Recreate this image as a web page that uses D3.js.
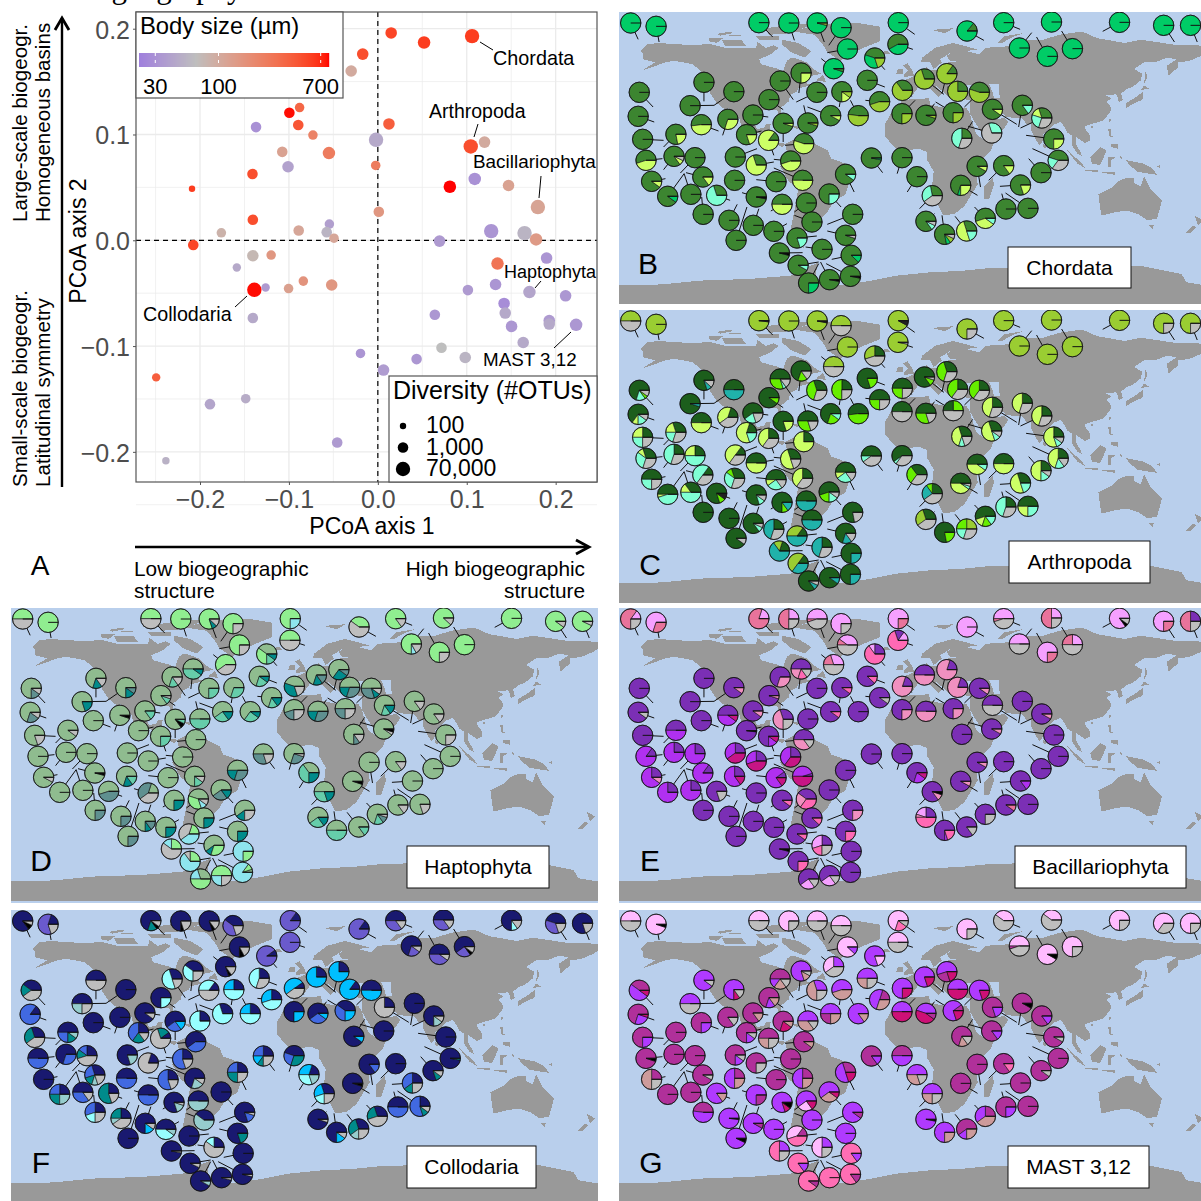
<!DOCTYPE html>
<html>
<head>
<meta charset="utf-8">
<script src="https://cdn.jsdelivr.net/npm/d3@7"></script>
<style>
body { margin: 0; background: #fff; }
svg { display: block; font-family: "Liberation Sans", Arial, sans-serif; }
</style>
</head>
<body>
<svg id="fig" width="1201" height="1201"></svg>
<script>
// PCoA scatter values, one row per lineage
var pcoaX = [.106,.052,.015,-.017,-.030,-.088,-.0995,-.0895,.0125,-.137,-.002,-.073,.1045,.120,-.1075,-.055,-.101,-.0024,-.141,.109,.081,.147,-.209,.180,.0011,-.1406,-.0545,-.176,-.089,-.0575,-.0493,.1275,.165,.178,.0694,-.2076,-.1406,-.120,-.1586,.1346,.1898,.1324,-.0838,-.0519,-.1262,-.1004,-.1389,.1013,.1705,.2112,.142,.0641,.1433,-.1406,.1504,.1928,.1928,.2230,.1635,.0716,-.0195,.0983,.0436,.0064,-.2493,-.1888,-.1486,-.0457,-.2384];
var pcoaY = [.193,.187,.196,.176,.160,.1255,.1205,.109,.110,.107,.095,.0995,.0887,.0928,.0836,.0824,.0695,.0707,.0626,.058,.0506,.0518,.0487,.0314,.027,.0194,.0153,.0071,.0093,.0077,.002,.0087,.0068,.0008,-.0008,-.0045,-.0146,-.014,-.0257,-.022,-.0168,-.0418,-.0386,-.0423,-.0446,-.0456,-.0468,-.0471,-.049,-.0525,-.0597,-.0704,-.0688,-.0735,-.0814,-.0758,-.0792,-.0799,-.0966,-.1016,-.107,-.1108,-.1123,-.1227,-.1296,-.1549,-.1498,-.1911,-.2084];
var bodySize = [600,600,550,500,100,350,800,450,400,30,45,220,500,100,120,250,40,250,500,30,820,120,600,115,150,500,38,85,110,55,110,32,55,140,35,550,75,150,45,280,32,32,160,150,35,125,800,35,42,33,28,33,45,45,33,35,45,33,45,65,32,55,33,36,400,42,48,35,52];
var otus = [70000,8400,2900,2900,2900,560,1000,1000,2900,1000,70000,560,70000,2900,1000,8400,2900,560,1000,8400,8400,2900,100,70000,1000,1000,560,560,1000,1000,560,70000,70000,8400,2900,1000,2900,560,300,8400,2900,2900,560,2900,300,560,70000,1000,8400,2900,2900,1000,2900,1000,2900,2900,2900,8400,2900,1000,560,2900,1000,2900,300,1000,560,1000,180];

var xTicks = [-0.2, -0.1, 0, 0.1, 0.2];
var yTicks = [-0.2, -0.1, 0, 0.1, 0.2];
var sizeTicks = [30, 100, 700];
var otuTicks = [100, 1000, 70000];
var otuLabels = ['100', '1,000', '70,000'];

var callouts = [
    {name: 'Chordata', tx: 493, ty: 65, size: 19.8, x1: 480, y1: 42, x2: 493, y2: 50},
    {name: 'Arthropoda', tx: 429, ty: 118, size: 19.5, x1: 478, y1: 124, x2: 474, y2: 137},
    {name: 'Bacillariophyta', tx: 473, ty: 168, size: 18.9, x1: 541, y1: 176, x2: 539, y2: 198},
    {name: 'Haptophyta', tx: 504, ty: 278, size: 18, x1: 541, y1: 281, x2: 535, y2: 288},
    {name: 'Collodaria', tx: 143, ty: 321, size: 19.7, x1: 235, y1: 307, x2: 247, y2: 296},
    {name: 'MAST 3,12', tx: 483, ty: 366, size: 18.8, x1: 554, y1: 348, x2: 571, y2: 332}
];

// station digitised on a 1568 x 900 plate: pie centre x,y then sampling point x,y
var stations = [
[42,48,62,97],[110,58,118,105],[385,47,422,90],[465,48,480,100],[541,48,560,105],[605,62,572,115],[758,47,802,82],[757,112,797,127],[942,72,987,100],[1040,47,1084,67],
[1168,45,1195,47],[1082,123,1115,77],[1157,148,1128,90],[1224,125,1195,72],[1350,46,1305,73],[1468,55,1497,105],[1540,55,1558,105],[622,126,568,137],[585,185,552,155],[695,153,722,188],
[238,226,238,283],[318,254,265,295],[201,296,265,295],[65,256,102,300],[62,328,105,345],[231,353,277,372],[302,337,288,385],[442,222,477,278],[498,198,492,258],[412,278,450,308],
[369,324,410,330],[352,383,392,372],[450,349,450,405],[516,348,505,295],[540,256,485,285],[607,254,600,300],[577,326,515,300],[675,220,722,240],[708,284,670,280],[651,326,630,280],
[769,250,795,268],[828,216,880,262],[888,200,875,260],[917,253,890,240],[975,256,935,300],[768,320,803,280],[832,325,855,290],[905,317,858,285],[1010,307,1075,352],[1090,295,1080,360],
[1142,333,1085,363],[928,394,957,343],[1008,378,945,358],[1174,396,1100,385],[1186,460,1117,425],[1140,497,1107,455],[1085,534,1030,538],[1040,476,1000,520],[969,478,978,540],[925,535,970,565],
[686,453,716,497],[768,452,755,500],[808,509,782,555],[849,566,815,605],[832,643,855,620],[882,682,875,625],[941,672,910,628],[991,634,962,600],[1046,606,1035,560],[1105,604,1045,558],
[74,397,130,400],[163,382,130,420],[83,460,127,455],[158,448,130,488],[214,452,175,498],[235,510,190,497],[141,568,185,500],[203,562,185,500],[98,523,135,515],[322,450,380,425],
[378,474,425,465],[411,400,425,445],[505,410,455,415],[470,462,425,457],[320,520,345,532],[431,524,378,518],[502,520,425,483],[272,565,308,580],[378,570,340,557],[447,592,417,612],
[512,588,480,615],[573,561,605,600],[617,502,640,555],[236,622,232,570],[305,640,327,592],[370,655,385,605],[324,700,353,600],[425,673,460,650],[527,645,480,625],[636,622,568,652],
[487,693,540,687],[617,685,568,672],[554,727,510,720],[440,738,502,737],[632,745,580,757],[490,775,545,765],[630,808,565,770],[574,818,550,765],[518,828,545,770]
];

// OTU composition per station, letter = colour in the panel palette, number = percent
var chordata = [
'B','B','B','B','B96 C4','B','B','A58 B42','A14 B86','B',
'B','B','B','B','B','B','B','B','B95 A5','A45 B35 C20',
'A','A','A','A','A','A52 D48','A70 D30','A','A75 D25','A',
'A','A80 D20','A95 D5','A95 C5','A','A75 D15 C10','A92 D8','A','A55 C45','A48 C52',
'A35 C65','A30 C70','A15 C85','A25 C75','A45 C55','A75 C25','A95 C5','A75 C25','A90 D10','A85 E15',
'A30 D15 E25 G30','A25 E45 G30','E30 G70','A75 D25','A45 E20 G35','A','A80 D20','A85 D15','A92 D8','A70 B5 D25',
'A97 B3','A','A','A28 E32 G40','A85 E8 G7','A78 B7 C8 G7','A30 D50 E20','A55 D35 E10','A','A',
'A','A78 D22','A55 D45','A85 D8 G7','A','A85 D15','A90 B10','A','A90 D10','A',
'A30 D70','A15 D85','A45 D55','A55 D45','A','A','A50 D50','A30 E70','A97 K3','A50 D50',
'A','A75 E25','A90 E10','A','A','A','A','A','A','A',
'A80 E20','A95 G5','A','A96 K4','A88 B12','A92 E8','A97 K3','A97 K3','A75 B25'
];
var arthropoda = [
'B50 G50','B','B98 K2','B','B97 K3','B50 G50','B92 K8','B97 G3','B75 G25','B',
'B','B','B','B','B','B75 G25','B75 G25','B','B50 G50','A25 B30 G45',
'A80 F8 G12','A50 F50','A95 F5','A70 E15 C5 G10','A65 D10 E15 G10','A50 D50','A20 D40 G40','A50 C30 E5 G15','A70 C15 G15','A90 C10',
'A60 E20 G20','A20 D60 E20','A80 D20','A50 C30 G20','A30 C40 G30','A25 C50 G25','A70 C20 E10','A80 C20','A50 C25 G25','A52 C48',
'A50 C25 G25','A85 C10 G5','A30 C40 G30','A25 C40 G35','A25 C40 G35','A50 G50','A50 C30 G20','C25 A25 G50','A25 D45 G30','A25 D45 G30',
'A25 D45 G30','A30 D40 E10 G20','A30 D50 E10 G10','A25 D55 E10 G10','A25 D45 E15 G15','A25 D50 E15 G10','A30 D50 E20','A50 D50','A50 D40 E10','A50 D40 E5 G5',
'A50 E10 G40','A60 E5 G35','A35 C30 G35','A25 C10 F25 G40','A30 B30 G40','A78 C22','B25 C25 E20 G30','A55 D15 C15 E15','A25 E45 G30','A50 D25 E25',
'A25 D25 E25 G25','A30 D20 E20 G30','A30 D10 E30 G30','A25 E45 G30','A25 D25 E50','A15 E50 G35','A50 D5 E45','A35 D15 E50','A50 E25 G25','A15 D50 G35',
'A50 D50','A25 D40 G35','A25 D75','A30 D50 G20','A30 C10 E30 G30','A50 D10 E25 G15','A25 D40 G35','A80 C10 K10','A80 E10 G10','A75 C10 F15',
'A50 F50','A55 C20 E15 G10','A50 D10 E25 G15','A','A','A85 E8 G7','A90 G10','A25 F45 G30','A50 F50','A78 G22',
'A15 B35 F50','A70 F15 G15','A25 F45 G30','A20 B15 F65','A75 F25','A15 B50 F35','A75 F25','A90 F10','A85 F8 G7'
];
var haptophyta = [
'B50 G50','B','B50 G50','B','B80 C8 G12','B75 G25','B75 F25','B50 G50','B40 G60','B85 G15',
'B88 G12','B75 F8 G17','B75 G25','B','B','B90 G10','B93 G7','B75 G25','B60 G40','A40 B35 D15 C10',
'A70 C15 G15','A75 C15 E10','A80 C20','A75 E15 G10','A70 E20 G10','A','A95 K5','A70 D15 G15','A50 D40 C10','A85 D10 G5',
'A85 D15','A','A85 K8 D7','A50 D50','A75 D25','A70 D30','A60 D25 C15','A70 D20 C10','A70 D15 C15','A65 D25 C10',
'A45 C35 G20','A70 C15 E15','A65 C25 E10','A50 C20 E30','A50 E30 C10 G10','A55 E20 G25','A50 C20 E30','A50 E25 G25','A70 D15 C15','A85 G15',
'A85 G15','A75 E10 G15','A90 G5 K5','A75 G25','A','A','A','A85 G15','A','A95 K5',
'A50 E30 G20','A70 E25 G5','A35 D40 C25','A50 D30 C20','A60 D25 C15','A50 D50','A85 D15','A70 D15 E10 G5','A85 G15','A80 G20',
'A80 G20','A90 G10','A','A','A','A96 K4','A','A','A92 G8','A',
'A','A75 D25','A','A','A70 C15 D15','A','A75 D15 G10','A55 E45','A20 E40 G40','A75 C25',
'A45 B35 F10 G10','A60 E25 C15','A50 C20 E30','A75 E25','A75 E25','A75 C10 E15','A75 E25','A75 C25','A75 C25','A60 C15 G25',
'B20 G40 F40','A75 C25','A60 C10 B30','B25 F15 G60','F75 B25','B25 G10 F65','A5 B10 F85','B50 F25 G25','A30 F20 B50'
];
var bacillariophyta = [
'E15 H60 G25','E70 H30','E20 H80','E25 H50 G25','E50 H5 G45','E75 G25','E75 H25','E15 A15 D70','E','E50 H5 G45',
'E25 H50 G25','E50 G50','E75 H25','E25 H25 G50','E85 K5 G10','E75 H25','A25 H50 G25','E40 H10 G50','E30 H20 G50','A25 E10 D65',
'A','A90 F10','A','A','A90 G10','A','A50 B40 C10','A70 F30','A50 F20 D15 G15','A95 F5',
'A90 F10','A98 K2','A30 F45 G25','A','A','A90 D10','A90 D10','A88 D12','A90 G10','A',
'A20 F80','A50 F50','A20 F80','A20 F80','A90 F10','A75 F25','A50 F50','A75 F25','A50 G50','A',
'A92 F8','A','A92 F8','A','A','A','A85 B15','A','A92 F8','A92 F8',
'A','A','A70 B20 C10','A85 F10 K5','A25 E20 F5 D50','A75 B5 D20','A85 G15','A75 G25','A90 H10','A',
'A','A50 B50','A15 B85','A25 B75','A25 B75','A15 B85','A25 B75','A25 B75','A25 B65 F10','A25 B35 C40',
'A25 B30 C45','A75 B15 C10','A50 F35 G15','A25 B40 C35','A25 B60 C15','A10 B75 C15','A5 B45 C50','A80 G20','A','A90 D10',
'A40 F25 D35','A','A','A','A','A','A','A','A88 D12','A75 F25',
'A90 D10','A75 D25','A25 E30 D20 G25','A96 K4','A','A75 D25','A','A60 E25 G15','A60 E25 G15'
];
var collodaria = [
'A85 K8 G7','A20 C60 G20','A70 F15 K5 G10','A75 K5 G20','A80 K5 G15','A40 C40 G20','A15 C85','C','A15 C85','A50 C35 G15',
'A50 C35 G15','A70 C20 G10','A50 C40 G10','A60 C25 K5 G10','A75 E10 G15','A45 C35 G20','A80 G20','A75 K8 G17','A80 K5 G15','A10 C90',
'A50 G50','A','A50 H25 G25','A40 F20 G40','A15 B85','A','A','A30 E50 G20','A40 E35 G25','A75 E25',
'A90 G10','A25 B40 F20 G15','A60 B25 D15','A25 E75','A15 E35 G50','A25 D25 E50','A30 E70','A25 E45 G30','A25 D30 E45','A25 D25 E50',
'A10 D50 G40','A25 D75','A25 D75','A15 D85','A50 D50','A75 D25','A60 B30 D10','A40 B35 D25','A25 G75','A',
'A75 H15 G10','A90 D10','A','A','A97 F3','A80 F10 G10','A25 B35 F15 G25','A','A85 B15','A95 K5',
'A25 B25 D15 F10 G25','A45 B25 F30','A20 D30 E30 H20','A30 D25 E20 G25','A95 G5','A75 D15 G10','A30 F30 H15 G25','A30 F25 G45','A50 B50','A25 B55 F10 G10',
'A30 F30 G40','A50 B25 F15 H10','A50 B50','A70 B30','A25 B15 F15 G45','A30 B25 F15 H10 G20','A25 B25 F25 H25','A50 B35 G15','A','A80 H20',
'A20 G80','A10 F20 G70','A60 B40','A25 B55 G20','A50 B50','A25 B55 G20','A70 H20 G10','A25 F55 G20','A50 B50','A80 H15 G5',
'A50 H50','A','A25 B25 F25 G25','A25 B30 E20 G25','A25 F25 H10 G40','A75 D15 G10','A','A50 E40 H10','A40 H60','A80 B15 G5',
'A','A80 F20','A25 E15 G60','A97 G3','A','A93 G7','A96 G4','A96 G4','A92 H8'
];
var mast = [
'E50 G50','E95 K5','E50 G50','E75 G25','E50 G50','E50 G50','E70 D20 G10','E50 G50','E75 G25','E40 G60',
'E40 G60','E50 A5 G45','E92 K8','E75 G25','E75 G25','E65 G35','E75 G25','E88 B12','B25 E35 G40','B80 E20',
'B90 G10','B75 C10 G15','B50 G50','A40 B50 C10','A70 B25 C5','A75 B25','A85 G15','A50 B15 F20 G15','B80 F12 G8','A70 B15 F15',
'A85 F15','A75 B15 G10','A70 C20 F10','B50 F35 G15','B30 F45 G25','B55 F45','B50 A25 F25','B50 F25 G25','A20 B50 F30','B85 F15',
'B75 C25','B80 C20','B55 A25 C20','B50 C50','B80 C20','B50 C50','B45 C45 A10','A10 B70 C20','A80 B20','A92 K8',
'A85 B15','A70 F15 G15','A85 B15','A92 G8','A','A90 G10','A','A85 D15','A','A',
'A85 B15','A50 B50','B50 F30 G20','B50 F25 G25','B97 K3','B75 F25','A60 B15 F25','A25 B35 F40','A75 B25','A',
'A75 B25','A','A95 K5','A','A','A92 G8','A','A','A25 F50 G25','A75 B15 G10',
'A75 G25','A50 F25 G25','A90 F10','A','A25 B50 F25','A','A25 B50 F25','B85 F15','B75 A25','B80 C10 K10',
'B60 E25 C15','B60 F30 C10','A30 B50 C20','A48 B52','B98 K2','B92 A8','B93 K7','B','B','B90 A10',
'A15 E40 D45','B','B25 E50 G25','B25 D50 G25','D85 B15','D85 B15','D85 A15','D','D90 A10'
];

// palettes for the composition letters
var palChordata = {A:'#3C8530',B:'#00CC66',C:'#9ACD32',D:'#CCFF66',E:'#7FFFD4',G:'#BEBEBE',K:'#000000'};
var palArthropoda = {A:'#1C5E1C',B:'#9ACD32',C:'#66EE00',D:'#CCFF66',E:'#7FFFD4',F:'#20B2AA',G:'#BEBEBE',K:'#222222'};
var palHaptophyta = {A:'#8FBC8F',B:'#90EE90',C:'#008B8B',D:'#66CDAA',E:'#5F9090',F:'#8EE5EE',G:'#BEBEBE',K:'#000000'};
var palBacillariophyta = {A:'#7B2FB5',B:'#B030F0',C:'#C71585',D:'#FF69B4',E:'#F5A0FF',F:'#F090C0',H:'#E8739B',G:'#BEBEBE',K:'#000000'};
var palCollodaria = {A:'#191970',B:'#4169E1',C:'#6A5ACD',D:'#00BFFF',E:'#97FFFF',F:'#008B8B',H:'#96CDCD',G:'#BEBEBE',K:'#000000'};
var palMast = {A:'#B0309A',B:'#B03AFF',C:'#CD1076',D:'#FF6EB4',E:'#FFBBFF',F:'#CD9B9B',G:'#BEBEBE',K:'#000000'};

// land outlines as lon,lat rings
var land = [
// north and central america
[[-167,66],[-163,70],[-156,71],[-149,70.5],[-141,70],[-134,69.5],[-125,70.5],[-115,68],[-108,68],[-96,68],[-95,71.5],[-90,68],[-85,69.5],[-82,68],[-87,64],[-94,61],[-93,58],[-86,56],[-82,55],[-80,51],[-79,55],[-77,60],[-74,62],[-70,61],[-65,59],[-61,55],[-56,52],[-66,50],[-70,47],[-64,49],[-65,46],[-60,46],[-66,44],[-70,43],[-71,41],[-75,39],[-76,35],[-81,31],[-80,26],[-82,26],[-83,30],[-89,30],[-94,29],[-97,27],[-98,22],[-95,18],[-91,19],[-90,21],[-87,21],[-88,16],[-84,15],[-83,10],[-78,9],[-80,7],[-85,10],[-91,14],[-96,16],[-105,20],[-106,24],[-112,30],[-113,31],[-110,23],[-115,30],[-120,34],[-124,40],[-124,48],[-130,54],[-135,58],[-146,60],[-152,59],[-160,56],[-166,54],[-158,59],[-165,61],[-165,64]],
[[-73,78],[-60,82],[-35,83.5],[-20,81],[-20,72],[-30,68],[-42,62],[-44,60],[-52,65],[-55,70],[-60,76]],
[[-80,73],[-70,71],[-62,66],[-66,62],[-74,65],[-80,70]],
[[-117,73],[-105,73],[-102,69],[-115,69]],
[[-90,80],[-70,83],[-62,82],[-75,77],[-88,76]],
[[-125,74],[-116,74],[-120,71],[-125,72]],
[[-96,75],[-82,75],[-82,73],[-94,73]],
[[-112,76],[-104,76],[-106,75],[-113,75]],
[[-120,76.5],[-112,78],[-110,77],[-118,75.5]],
[[-100,79],[-92,81],[-88,79],[-96,77.5]],
[[-59,48],[-55,51.5],[-53,47]],
[[-24,65],[-15,66],[-14,64.5],[-22,63.5]],
[[-5,50],[1,51],[0,54],[-3,58.5],[-6,57],[-3,54],[-5,52]],
[[-10,52],[-6,52],[-6,55],[-9,55]],
// eurasia
[[-9,37],[-9,43],[-2,43.5],[-1,46],[-5,48],[2,51],[8,54],[8,57],[11,54],[20,55],[22,59],[30,60],[23,60],[21,63],[25,66],[17,61],[18,59],[13,55],[11,59],[5,59],[6,62],[14,68],[25,71],[40,67],[33,66],[41,64],[45,68],[60,69],[68,69],[70,73],[80,73],[90,76],[104,78],[113,74],[130,71],[140,73],[160,70],[170,70],[180,69],[180,65],[177,63],[170,60],[163,59],[163,56],[157,51],[156,57],[162,61],[156,62],[150,59.5],[142,59],[136,55],[141,52],[140,48],[135,44],[132,43],[128,40],[129,36],[126.5,34.5],[126,37],[125,39.5],[121.5,39],[118,39],[122,37],[119,35],[122,31],[121,28],[117,23.5],[113,22],[109,21],[106,20],[106,18],[109,14],[109,11],[105,9],[105,10],[100,13.5],[100,9],[103,4],[104,1.5],[101,3],[98,8],[98,14],[95,16],[94,18],[91,22.5],[87,21],[85,19],[80,15],[80,11],[78,8],[76,11],[73,17],[72.5,21],[70,21],[67,25],[62,25],[57,25.5],[56.5,27],[51,28],[48,30],[50,26],[52,24],[56,25],[59,22.5],[55,17],[45,13],[43,15],[39,21],[35,28],[35,36],[27,37],[26,40],[30,41],[38,41],[41,42],[37,45],[34,45],[30,46],[28,42],[24,40],[23,37],[20,40],[14,45],[18,40],[16,38],[12,42],[8,44],[3,43],[0,39],[-2,37],[-5,36]],
// africa
[[-6,36],[10,37],[11,33],[20,31],[25,32],[33,31],[35,28],[37,21],[39,15],[43,12],[51,12],[48,5],[40,-3],[39,-10],[40,-16],[35,-24],[32,-29],[26,-34],[19,-35],[15,-27],[12,-17],[13,-8],[9,-1],[9,4],[4,6],[-4,5],[-8,4],[-13,9],[-17,14],[-17,21],[-13,28],[-9,32]],
// south america
[[-78,9],[-72,12],[-62,10],[-52,5],[-50,0],[-44,-2],[-35,-6],[-39,-15],[-41,-22],[-48,-26],[-53,-34],[-58,-38],[-65,-41],[-66,-47],[-69,-52],[-66,-55],[-73,-53],[-75,-45],[-72,-30],[-70,-18],[-76,-14],[-81,-5],[-80,0],[-77,4]],
// australia and the islands
[[114,-22],[122,-18],[126,-14],[131,-12],[136,-12],[136,-15],[140,-17],[142,-11],[146,-19],[153,-26],[150,-37],[144,-38],[138,-34],[132,-32],[124,-33],[116,-35],[115,-30]],
[[173,-35],[178,-38],[175,-41],[174,-38]],
[[172,-41],[174,-42],[170,-46],[167,-46]],
[[145,-41],[148,-41],[147,-43.5]],
[[49,-12],[50,-16],[47,-25],[44,-25],[44,-17]],
[[131,34],[136,37],[140,40],[141.5,41],[141,36],[136,34],[131,31]],
[[140,42],[142,45],[145,43]],
[[142,46],[143,54],[144,50]],
[[120,18],[122,18],[122,14],[124,13],[121,13]],
[[122,9],[126,9],[126,6],[122,7]],
[[109,1],[115,7],[119,5],[117,0],[115,-4],[110,-3]],
[[95,5],[104,-3],[106,-6],[101,-3]],
[[105,-7],[114,-7],[114,-8.5],[106,-7.5]],
[[116,-8.5],[124,-8.5],[124,-10],[118,-9]],
[[120,1],[125,1],[122,-1],[122,-5],[120,-5]],
[[127,2],[128.5,1],[128,-1]],
[[131,-1],[141,-3],[147,-6],[150,-10],[143,-9],[138,-8],[133,-4]],
[[150,-5],[152,-4],[152,-6]],
[[80,9.5],[82,7],[80.5,6]],
[[121,25],[122,23],[120.5,22.5]],
[[109,20],[111,20],[110,18]],
[[-85,22],[-80,23],[-74,20],[-78,20]],
[[-74,20],[-69,19.5],[-71,18]],
[[12,79],[25,80],[20,77]],
[[52,71],[56,75],[68,77],[60,74],[55,71]],
[[-180,-90],[180,-90],[180,-78],[168,-76],[165,-71],[140,-66],[110,-66],[85,-66],[60,-67],[45,-67.5],[30,-69],[10,-70],[-10,-72],[-25,-75],[-45,-78],[-60,-75],[-58,-64],[-65,-67],[-75,-72],[-100,-74],[-130,-75],[-150,-77],[-165,-78],[-180,-78]]
];
var lakes = [
[[47,46],[53,46],[53,40],[54,37],[50,37],[49,41]]
];

var panels = [
    {id: 'B', name: 'Chordata', x: 619, y: 12, w: 582, h: 292, comp: chordata, pal: palChordata, box: [1008, 247, 123, 41], lx: 648, ly: 263},
    {id: 'C', name: 'Arthropoda', x: 619, y: 310, w: 582, h: 293, comp: arthropoda, pal: palArthropoda, box: [1009, 541, 141, 42], lx: 650, ly: 564},
    {id: 'D', name: 'Haptophyta', x: 11, y: 608, w: 587, h: 295, comp: haptophyta, pal: palHaptophyta, box: [407, 846, 142, 42], lx: 41, ly: 860},
    {id: 'E', name: 'Bacillariophyta', x: 619, y: 608, w: 582, h: 295, comp: bacillariophyta, pal: palBacillariophyta, box: [1015, 846, 171, 42], lx: 650, ly: 860},
    {id: 'F', name: 'Collodaria', x: 11, y: 910, w: 587, h: 291, comp: collodaria, pal: palCollodaria, box: [407, 1146, 129, 42], lx: 41, ly: 1162},
    {id: 'G', name: 'MAST 3,12', x: 619, y: 910, w: 582, h: 291, comp: mast, pal: palMast, box: [1008, 1146, 141, 42], lx: 651, ly: 1162}
];

var svg = d3.select('#fig');

// ---- panel A ----
var x = d3.scaleLinear().domain([-0.272, 0.2465]).range([136, 597]);
var y = d3.scaleLinear().domain([0.2158, -0.2285]).range([12, 482]);
var colour = d3.scaleLog().domain([22, 65, 820]).range(['#9F7FDD', '#BEBEBE', '#FF0000']).interpolate(d3.interpolateLab);
var radius = d3.scaleLog().domain([100, 1000, 70000]).range([3.2, 5.3, 7.2]);
var minus = function(d) { return d3.format('.1f')(d).replace('-', '\u2212'); };

var gridA = svg.append('g');
d3.range(-0.25, 0.25, 0.05).forEach(function(v) {
    var major = Math.abs(Math.round(v * 10) - v * 10) < 1e-6;
    gridA.append('line').attr('x1', x(v)).attr('x2', x(v)).attr('y1', 12).attr('y2', 482)
        .attr('stroke', '#EBEBEB').attr('stroke-width', major ? 1.3 : 0.7);
    gridA.append('line').attr('y1', y(v)).attr('y2', y(v)).attr('x1', 136).attr('x2', 597)
        .attr('stroke', '#EBEBEB').attr('stroke-width', major ? 1.3 : 0.7);
});
gridA.append('line').attr('x1', x(0)).attr('x2', x(0)).attr('y1', 12).attr('y2', 482)
    .attr('stroke', '#000').attr('stroke-width', 1.2).attr('stroke-dasharray', '5,4');
gridA.append('line').attr('y1', y(0)).attr('y2', y(0)).attr('x1', 136).attr('x2', 597)
    .attr('stroke', '#000').attr('stroke-width', 1.2).attr('stroke-dasharray', '5,4');

svg.append('g').selectAll('circle').data(pcoaX).join('circle')
    .attr('cx', function(d) { return x(d); })
    .attr('cy', function(d, i) { return y(pcoaY[i]); })
    .attr('r', function(d, i) { return radius(otus[i]); })
    .attr('fill', function(d, i) { return colour(bodySize[i]); });

svg.append('rect').attr('x', 136).attr('y', 12).attr('width', 461).attr('height', 470)
    .attr('fill', 'none').attr('stroke', '#555').attr('stroke-width', 1.2);

var axB = svg.append('g').attr('transform', 'translate(0,482)')
    .call(d3.axisBottom(x).tickValues(xTicks).tickFormat(minus).tickSize(3).tickSizeOuter(0));
var axL = svg.append('g').attr('transform', 'translate(136,0)')
    .call(d3.axisLeft(y).tickValues(yTicks).tickFormat(minus).tickSize(3).tickSizeOuter(0));
[axB, axL].forEach(function(a) {
    a.select('.domain').remove();
    a.selectAll('line').attr('stroke', '#555');
    a.selectAll('text').attr('fill', '#4D4D4D').style('font-size', '25px').style('font-family', '"Liberation Sans"');
});
axB.selectAll('text').attr('dy', '0.78em');
axL.selectAll('text').attr('dy', '0.38em');

function label(t, px, py, size, anchor) {
    return svg.append('text').text(t).attr('x', px).attr('y', py)
        .attr('font-size', size).attr('text-anchor', anchor || 'start').attr('fill', '#000');
}
function vlabel(t, px, py, size, anchor) {
    return svg.append('text').text(t).attr('transform', 'translate(' + px + ',' + py + ') rotate(-90)')
        .attr('font-size', size).attr('text-anchor', anchor || 'start').attr('fill', '#000');
}

label('PCoA axis 1', 372, 534, 23, 'middle');
vlabel('PCoA axis 2', 86, 241, 23, 'middle');
vlabel('Large-scale biogeogr.', 27, 222, 20.6);
vlabel('Homogeneous basins', 50, 222, 20.6);
vlabel('Small-scale biogeogr.', 27, 487, 20.6);
vlabel('Latitudinal symmetry', 50, 487, 20.6);
label('Low biogeographic', 134, 576, 20.8);
label('structure', 134, 598, 20.8);
label('High biogeographic', 585, 576, 20.8, 'end');
label('structure', 585, 598, 20.8, 'end');
label('A', 40, 575, 28, 'middle');
svg.append('text').text('biogeography').attr('x', 72).attr('y', -2)
    .attr('font-size', 31).attr('font-family', '"Liberation Serif"').attr('fill', '#000');

// axis arrows
var arrowLine = d3.line();
svg.append('path').attr('d', arrowLine([[62, 487], [62, 18]])).attr('stroke', '#000').attr('stroke-width', 2.4).attr('fill', 'none');
svg.append('path').attr('d', arrowLine([[55, 30], [62, 18], [69, 30]])).attr('stroke', '#000').attr('stroke-width', 2.8).attr('fill', 'none');
svg.append('path').attr('d', arrowLine([[135, 547], [588, 547]])).attr('stroke', '#000').attr('stroke-width', 2.4).attr('fill', 'none');
svg.append('path').attr('d', arrowLine([[576, 540], [589, 547], [576, 554]])).attr('stroke', '#000').attr('stroke-width', 2.8).attr('fill', 'none');

callouts.forEach(function(c) {
    label(c.name, c.tx, c.ty, c.size);
    svg.append('line').attr('x1', c.x1).attr('y1', c.y1).attr('x2', c.x2).attr('y2', c.y2)
        .attr('stroke', '#000').attr('stroke-width', 1);
});

// body size legend
svg.append('rect').attr('x', 136).attr('y', 12).attr('width', 207).attr('height', 86)
    .attr('fill', '#fff').attr('stroke', '#555').attr('stroke-width', 1.2);
label('Body size (\u00B5m)', 140, 34, 23.8);
var barScale = d3.scaleLog().domain([22, 820]).range([139, 329]);
d3.range(139, 329).forEach(function(px) {
    svg.append('rect').attr('x', px).attr('y', 53).attr('width', 1.2).attr('height', 14)
        .attr('fill', colour(barScale.invert(px + 0.5)));
});
sizeTicks.forEach(function(t) {
    svg.append('line').attr('x1', barScale(t)).attr('x2', barScale(t)).attr('y1', 53).attr('y2', 67)
        .attr('stroke', '#fff').attr('stroke-width', 1).attr('stroke-dasharray', '3,4');
    label(t, barScale(t), 94, 22, 'middle');
});

// diversity legend
svg.append('rect').attr('x', 389).attr('y', 376).attr('width', 208).attr('height', 106)
    .attr('fill', '#fff').attr('stroke', '#555').attr('stroke-width', 1.2);
label('Diversity (#OTUs)', 393, 399, 25);
var legY = d3.scalePoint().domain(otuTicks).range([426, 469]);
otuTicks.forEach(function(t, i) {
    svg.append('circle').attr('cx', 403).attr('cy', legY(t)).attr('r', radius(t)).attr('fill', '#000');
    label(otuLabels[i], 426, legY(t) + 7, 23);
});

// ---- map panels ----
var lonX = d3.scaleLinear().domain([-180, 180]).range([0, 587]);
var latY = d3.scaleLinear().domain([90, -90]).range([0, 293]);
var plateX = d3.scaleLinear().domain([0, 1568]).range([-4, 582]);
var plateY = d3.scaleLinear().domain([0, 900]).range([-5, 295]);
var ring = d3.line().x(function(d) { return lonX(d[0]); }).y(function(d) { return latY(d[1]); }).curve(d3.curveLinearClosed);
var pie = d3.pie().value(function(d) { return d.v; }).sort(null).startAngle(Math.PI / 2).endAngle(Math.PI / 2 - 2 * Math.PI);
var pieR = 10.2;
var arc = d3.arc().innerRadius(0).outerRadius(pieR);

function parseComp(s) {
    return s.split(' ').map(function(p) {
        return {k: p[0], v: p.length > 1 ? +p.slice(1) : 100};
    });
}

panels.forEach(function(p) {
    svg.append('clipPath').attr('id', 'clip' + p.id).append('rect').attr('width', p.w).attr('height', p.h);
    var g = svg.append('g').attr('transform', 'translate(' + p.x + ',' + p.y + ')').attr('clip-path', 'url(#clip' + p.id + ')');
    g.append('rect').attr('width', p.w).attr('height', p.h).attr('fill', '#B9CFEC');
    g.selectAll('path.land').data(land).join('path').attr('class', 'land').attr('d', ring)
        .attr('fill', '#999999').attr('shape-rendering', 'crispEdges');
    g.selectAll('path.lake').data(lakes).join('path').attr('class', 'lake').attr('d', ring)
        .attr('fill', '#B9CFEC').attr('shape-rendering', 'crispEdges');

    g.selectAll('line.leader').data(stations).join('line').attr('class', 'leader')
        .attr('x1', function(d) { return plateX(d[0]); }).attr('y1', function(d) { return plateY(d[1]); })
        .attr('x2', function(d) { return plateX(d[2]); }).attr('y2', function(d) { return plateY(d[3]); })
        .attr('stroke', '#111').attr('stroke-width', 1);

    var pies = g.selectAll('g.pie').data(stations).join('g').attr('class', 'pie')
        .attr('transform', function(d) { return 'translate(' + plateX(d[0]) + ',' + plateY(d[1]) + ')'; });
    pies.each(function(d, i) {
        var slices = pie(parseComp(p.comp[i]));
        d3.select(this).selectAll('path').data(slices).join('path')
            .attr('d', arc).attr('fill', function(s) { return p.pal[s.data.k]; })
            .attr('stroke', '#111').attr('stroke-width', 0.6);
        d3.select(this).append('line').attr('x2', pieR).attr('stroke', '#111').attr('stroke-width', 1);
        d3.select(this).append('circle').attr('r', pieR).attr('fill', 'none').attr('stroke', '#111').attr('stroke-width', 0.8);
    });

    svg.append('rect').attr('x', p.box[0]).attr('y', p.box[1]).attr('width', p.box[2]).attr('height', p.box[3])
        .attr('fill', '#fff').attr('stroke', '#111').attr('stroke-width', 1);
    label(p.name, p.box[0] + p.box[2] / 2, p.box[1] + p.box[3] / 2 + 7, 21, 'middle');
    label(p.id, p.lx, p.ly + 11, 30, 'middle');
});
</script>
</body>
</html>
